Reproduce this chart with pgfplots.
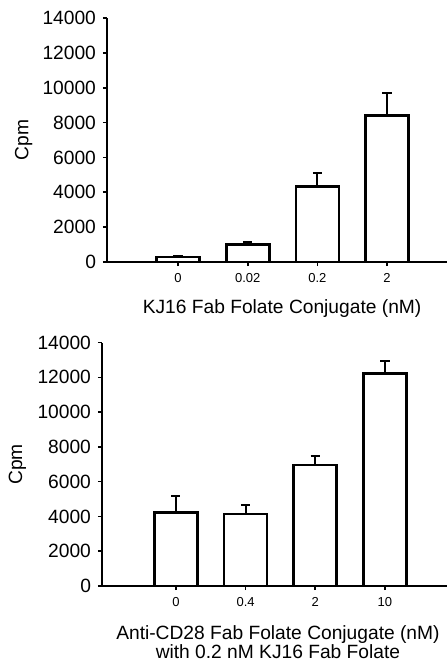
\documentclass[border=0pt]{standalone}
\usepackage{fontspec}
\setmainfont{Liberation Sans}
\usepackage{pgfplots}
\pgfplotsset{compat=1.18}

\pgfplotsset{cpmbars/.style={
  scale only axis, axis lines*=left, tick align=outside, major tick length=2pt,
  axis line style={line width=1pt}, every tick/.style={black, line width=0.8pt},
  ymin=0, ymax=14000, ytick={0,2000,...,14000}, scaled y ticks=false,
  /pgf/number format/assume math mode=true,
  /pgf/number format/set thousands separator={},
  yticklabel style={font=\fontsize{9.6}{11}\selectfont},
  xticklabel style={font=\fontsize{6.5}{8}\selectfont},
  xtick={0,1,2,3},
  ylabel={Cpm},
  ylabel style={font=\fontsize{9.6}{11}\selectfont, at={(axis description cs:-0.245,0.5)}, anchor=center},
  ybar, bar width=21.5pt,
}}
\pgfplotsset{barstyle/.style={draw=black, fill=white, line width=1.3pt,
  error bars/.cd, y dir=plus, y explicit,
  error bar style={line width=1pt, black},
  error mark options={rotate=90, mark size=2.3pt, line width=1pt}}}

\begin{document}
\begin{tikzpicture}
\useasboundingbox (-53.5pt,-199pt) rectangle (170pt,131pt);
\begin{axis}[cpmbars, at={(0pt,0pt)}, width=170pt, height=122pt,
  xmin=-1.02, xmax=3.86, xticklabels={0,0.02,0.2,2},
  xlabel={KJ16 Fab Folate Conjugate (nM)},
  xlabel style={font=\fontsize{9.6}{11}\selectfont, at={(axis description cs:0.515,-0.19)}, anchor=center}]
\addplot[barstyle] coordinates {
  (0,280) +- (0,40)
  (1,1000) +- (0,150)
  (2,4330) +- (0,760)
  (3,8420) +- (0,1300)
};
\end{axis}
\begin{axis}[cpmbars, at={(-2.5pt,-162pt)}, width=172.5pt, height=121.7pt,
  xmin=-1.06, xmax=3.89, xticklabels={0,0.4,2,10},
  xlabel={Anti-CD28 Fab Folate Conjugate (nM)\\with 0.2 nM KJ16 Fab Folate},
  xlabel style={font=\fontsize{9.6}{9.6}\selectfont, align=center, at={(axis description cs:0.51,-0.232)}, anchor=center}]
\addplot[barstyle] coordinates {
  (0,4240) +- (0,960)
  (1,4140) +- (0,520)
  (2,6960) +- (0,540)
  (3,12220) +- (0,750)
};
\end{axis}
\end{tikzpicture}
\end{document}
